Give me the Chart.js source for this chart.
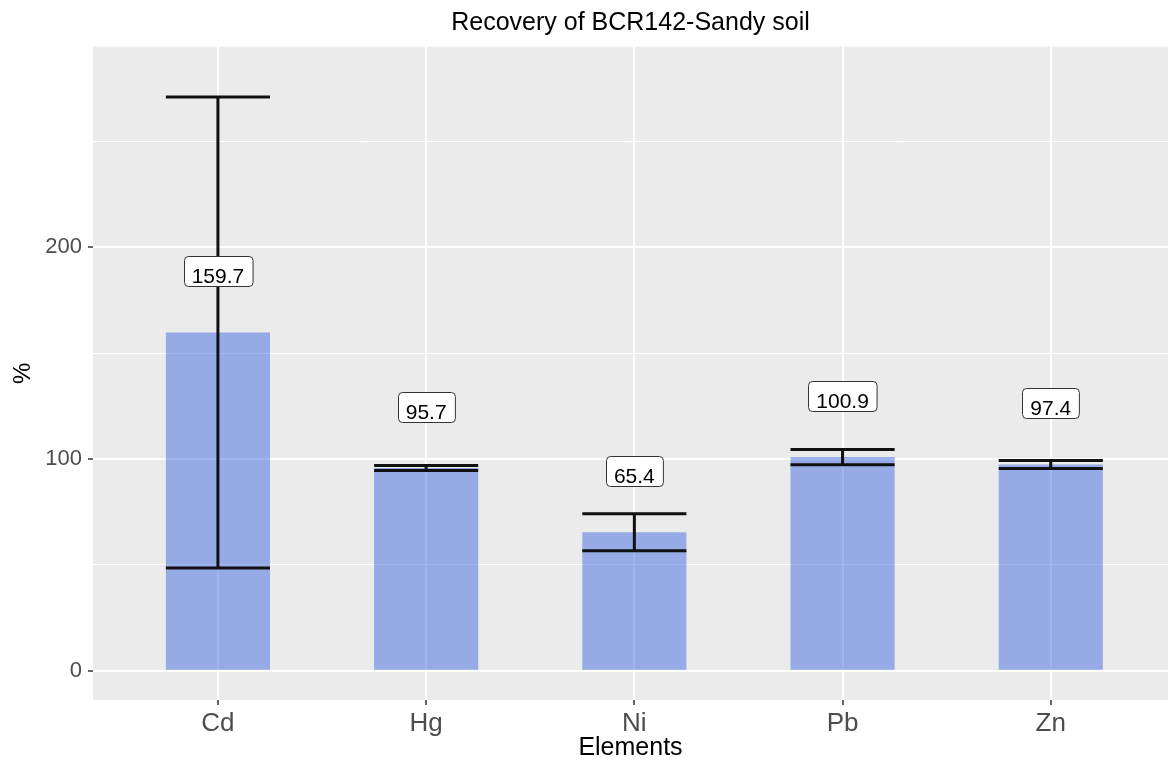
<!DOCTYPE html>
<html>
<head>
<meta charset="utf-8">
<title>Recovery of BCR142-Sandy soil</title>
<script src="https://cdn.jsdelivr.net/npm/chart.js@4"></script>
<style>
  html, body { margin: 0; padding: 0; background: #fff; }
  #wrap { width: 1168px; height: 764px; position: relative; }
</style>
</head>
<body>
<div id="wrap"><canvas id="recoveryChart"></canvas></div>
<script>
// Values
const ELEMENTS = ['Cd', 'Hg', 'Ni', 'Pb', 'Zn'];
const RECOVERY = [159.7, 95.7, 65.4, 100.9, 97.4];   // mean recovery, %
const RECOVERY_SD = [111.2, 1.2, 8.7, 3.6, 1.9];      // error bar half-width, %
const Y_TICKS = [0, 50, 100, 150, 200, 250];
const Y_LABELED = [0, 100, 200];
const LABEL_NUDGE = 29;   // label box centre sits this far above the bar top (data units)

const PANEL_BG = '#EBEBEB';
const BAR_FILL = 'rgba(65,105,225,0.5)';
const TICK_TEXT = '#4D4D4D';
const FONT = "'Liberation Sans', Arial, Helvetica, sans-serif";

// grey ggplot-style panel behind the grid
const panelBackground = {
  id: 'panelBackground',
  beforeDraw(chart) {
    const { ctx, chartArea: a } = chart;
    ctx.save();
    ctx.fillStyle = '#fff';
    ctx.fillRect(0, 0, chart.width, chart.height);
    ctx.fillStyle = PANEL_BG;
    ctx.fillRect(a.left, a.top, a.right - a.left, a.bottom - a.top);
    ctx.restore();
  },
};

// mean ± sd error bars, caps as wide as the bar
const errorBars = {
  id: 'errorBars',
  afterDatasetsDraw(chart) {
    const { ctx } = chart;
    const y = chart.scales.y;
    const bars = chart.getDatasetMeta(0).data;
    ctx.save();
    ctx.strokeStyle = '#111';
    ctx.lineWidth = 3;
    bars.forEach((bar, i) => {
      const half = bar.width / 2;
      const hi = y.getPixelForValue(RECOVERY[i] + RECOVERY_SD[i]);
      const lo = y.getPixelForValue(RECOVERY[i] - RECOVERY_SD[i]);
      ctx.beginPath();
      ctx.moveTo(bar.x, hi); ctx.lineTo(bar.x, lo);
      ctx.moveTo(bar.x - half, hi); ctx.lineTo(bar.x + half, hi);
      ctx.moveTo(bar.x - half, lo); ctx.lineTo(bar.x + half, lo);
      ctx.stroke();
    });
    ctx.restore();
  },
};

// boxed value labels (geom_label look)
const valueLabels = {
  id: 'valueLabels',
  afterDatasetsDraw(chart) {
    const { ctx } = chart;
    const y = chart.scales.y;
    const bars = chart.getDatasetMeta(0).data;
    ctx.save();
    ctx.font = `21px ${FONT}`;
    bars.forEach((bar, i) => {
      const text = RECOVERY[i].toFixed(1);
      const w = ctx.measureText(text).width + 16;
      const h = 30;
      const cy = y.getPixelForValue(RECOVERY[i] + LABEL_NUDGE);
      const left = Math.round(bar.x - w / 2) + 0.5;
      const top = Math.round(cy - h / 2) + 0.5;
      ctx.beginPath();
      ctx.roundRect(left, top, w, h, 4);
      ctx.fillStyle = '#fff';
      ctx.fill();
      ctx.lineWidth = 1;
      ctx.strokeStyle = '#333';
      ctx.stroke();
      ctx.fillStyle = '#000';
      ctx.textAlign = 'center';
      ctx.textBaseline = 'alphabetic';
      ctx.fillText(text, bar.x, top + h - 4);
    });
    ctx.restore();
  },
};

const isLabeled = ctx => ctx.tick && Y_LABELED.includes(ctx.tick.value);

new Chart(document.getElementById('recoveryChart'), {
  type: 'bar',
  data: {
    datasets: [{
      data: ELEMENTS.map((_, i) => ({ x: i, y: RECOVERY[i] })),
      backgroundColor: BAR_FILL,
      borderWidth: 0,
      categoryPercentage: 1,
      barPercentage: 0.5,
    }],
  },
  options: {
    responsive: true,
    maintainAspectRatio: false,
    animation: false,
    layout: { padding: 0 },
    plugins: {
      legend: { display: false },
      tooltip: { enabled: false },
      title: {
        display: true,
        fullSize: false,
        text: 'Recovery of BCR142-Sandy soil',
        color: '#000',
        font: { family: FONT, size: 25, weight: 'normal' },
        padding: { top: 8.5, bottom: 8.2 },
      },
    },
    scales: {
      x: {
        type: 'linear',
        position: 'bottom',
        offset: false,
        min: -0.6,
        max: 4.563,
        afterFit: s => { s.height = 64; },
        afterBuildTicks: s => { s.ticks = ELEMENTS.map((_, i) => ({ value: i })); },
        grid: { offset: false, color: '#fff', lineWidth: 2, tickLength: 5, tickColor: '#333', tickWidth: 1.5 },
        border: { display: false },
        ticks: {
          callback: v => ELEMENTS[v],
          color: TICK_TEXT,
          font: { family: FONT, size: 26 },
          padding: 3,
          maxRotation: 0,
          autoSkip: false,
        },
        title: {
          display: true,
          text: 'Elements',
          color: '#000',
          font: { family: FONT, size: 25 },
          padding: { top: 0, bottom: 1 },
        },
      },
      y: {
        min: -13.8,
        max: 294.6,
        afterFit: s => { s.width = 93; },
        afterBuildTicks: s => { s.ticks = Y_TICKS.map(v => ({ value: v })); },
        grid: {
          color: '#fff',
          lineWidth: ctx => (isLabeled(ctx) ? 2 : 1),
          tickLength: 5,
          tickColor: ctx => (isLabeled(ctx) ? '#333' : 'rgba(0,0,0,0)'),
          tickWidth: 1.5,
        },
        border: { display: false },
        ticks: {
          callback: v => (Y_LABELED.includes(v) ? String(v) : ''),
          color: TICK_TEXT,
          font: { family: FONT, size: 22 },
          padding: 6,
        },
        title: {
          display: true,
          text: '%',
          color: '#000',
          font: { family: FONT, size: 24 },
          padding: { top: 8.6, bottom: 0 },
        },
      },
    },
  },
  plugins: [panelBackground, errorBars, valueLabels],
});
</script>
</body>
</html>
